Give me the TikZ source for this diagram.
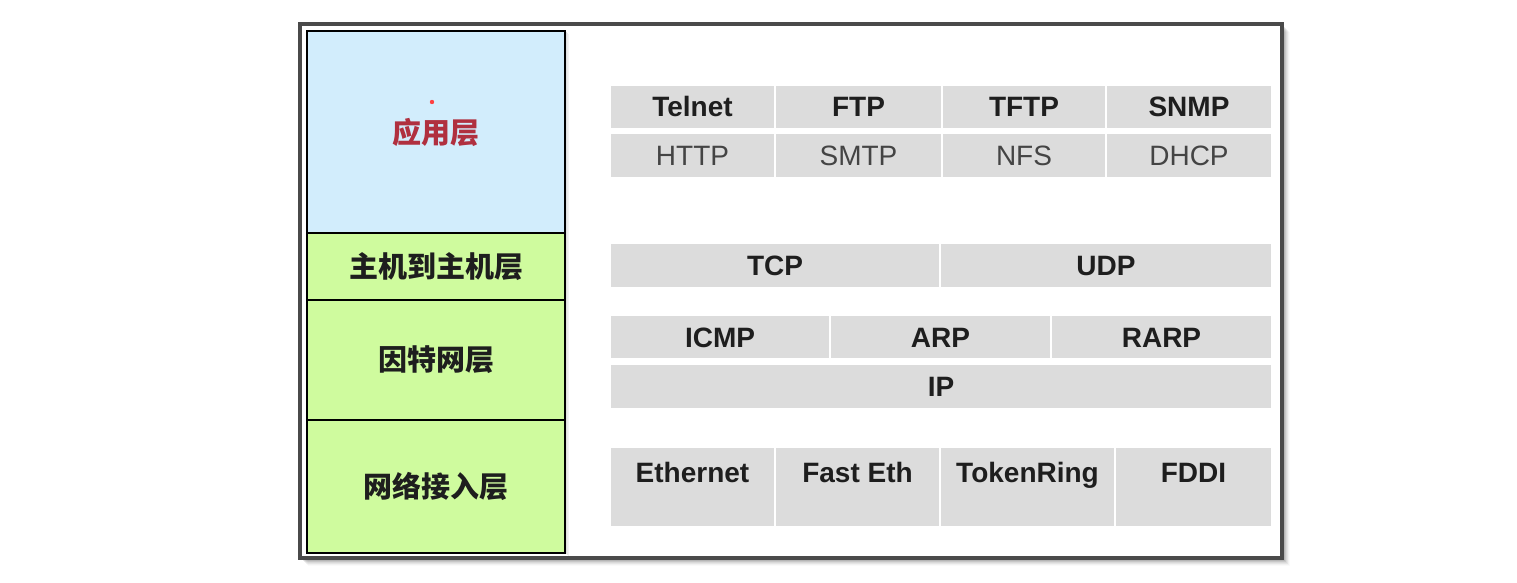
\documentclass[tikz,border=0pt]{standalone}
\usepackage{fontspec}
\setmainfont{Liberation Sans}
\newfontfamily\cjk{Noto Sans CJK SC}
\definecolor{bluefill}{HTML}{D2EDFC}
\definecolor{greenfill}{HTML}{CFFB9E}
\definecolor{cellgray}{HTML}{DCDCDC}
\definecolor{redtext}{HTML}{B0303F}
\definecolor{framegray}{HTML}{4A4A4A}
\definecolor{bodytext}{HTML}{1E1E1E}
\definecolor{lighttext}{HTML}{444444}
\tikzset{
  cell/.style={fill=cellgray, draw=white, line width=1.5pt, inner sep=0pt,
    text height=20pt, text depth=0pt, font=\fontsize{28}{32}\selectfont\bfseries, text=bodytext},
  lightcell/.style={cell, font=\fontsize{28}{32}\selectfont, text=lighttext},
  layer/.style={draw=black, line width=2pt, inner sep=0pt, minimum width=258pt,
    font=\cjk\fontsize{29}{32}\selectfont\bfseries, text=bodytext},
}
\newcommand\mycell[7][cell]{%
  \node[#1, minimum width={#5-#3}, minimum height={#6-#4}] (#2) at ({(#3+#5)/2},{(#4+#6)/2}) {#7};}
\begin{document}
\begin{tikzpicture}[x=1pt,y=-1pt]
\useasboundingbox (0,0) rectangle (1517,583);
% shadow of frame
\foreach \i/\o in {1/0.12,2/0.10,3/0.09,4/0.08,5/0.06,6/0.05,7/0.03,8/0.02}{
  \fill[black, opacity=\o] (300+\i,24+\i) rectangle (1282+\i,558+\i);
}
\draw[framegray, line width=3.5pt, fill=white] (300,24) rectangle (1282,558);
% shadow of left column
\foreach \i/\o in {1/0.12,2/0.08,3/0.05}{
  \fill[black, opacity=\o] (565+\i,31+\i) rectangle (565+\i+1,553+\i);
}
% left column
\node[layer, fill=bluefill, minimum height=202pt, text=redtext] (app) at (436,132) {应用层};
\node[layer, fill=greenfill, minimum height=67pt] (host) at (436,266.5) {主机到主机层};
\node[layer, fill=greenfill, minimum height=120pt] (inet) at (436,360) {因特网层};
\node[layer, fill=greenfill, minimum height=133pt] (net) at (436,486.5) {网络接入层};
\fill[red!75!white] (432,102) circle (2.2pt);
% application row 1
\mycell{telnet}{610}{85}{775}{129}{Telnet}
\mycell{ftp}{775}{85}{942}{129}{FTP}
\mycell{tftp}{942}{85}{1106}{129}{TFTP}
\mycell{snmp}{1106}{85}{1272}{129}{SNMP}
% application row 2
\mycell[lightcell]{http}{610}{133}{775}{178}{HTTP}
\mycell[lightcell]{smtp}{775}{133}{942}{178}{SMTP}
\mycell[lightcell]{nfs}{942}{133}{1106}{178}{NFS}
\mycell[lightcell]{dhcp}{1106}{133}{1272}{178}{DHCP}
% transport
\mycell{tcp}{610}{243}{940}{288}{TCP}
\mycell{udp}{940}{243}{1272}{288}{UDP}
% internet
\mycell{icmp}{610}{315}{830}{359}{ICMP}
\mycell{arp}{830}{315}{1051}{359}{ARP}
\mycell{rarp}{1051}{315}{1272}{359}{RARP}
\mycell{ip}{610}{364}{1272}{409}{IP}
% network access
\tikzset{lowcell/.style={cell, text height=30pt, text depth=40pt}}
\mycell[lowcell]{eth}{610}{447}{775}{527}{Ethernet}
\mycell[lowcell]{feth}{775}{447}{940}{527}{Fast Eth}
\mycell[lowcell]{token}{940}{447}{1115}{527}{TokenRing}
\mycell[lowcell]{fddi}{1115}{447}{1272}{527}{FDDI}
\end{tikzpicture}
\end{document}
